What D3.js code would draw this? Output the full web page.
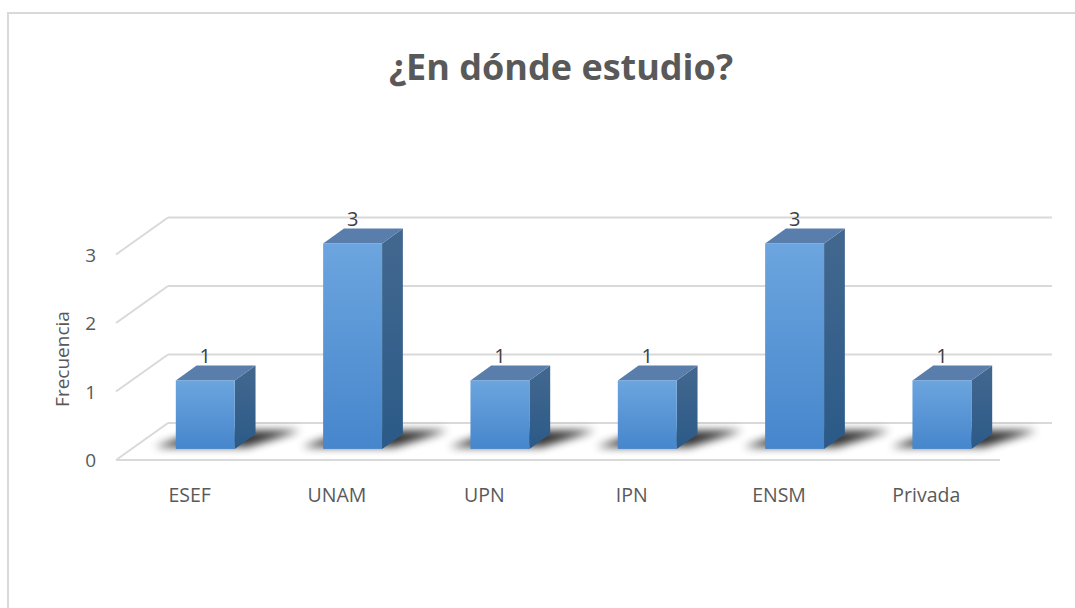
<!DOCTYPE html>
<html>
<head>
<meta charset="utf-8">
<script src="https://cdn.jsdelivr.net/npm/d3@7"></script>
<style>
  body { margin: 0; background: #fff; }
  svg { display: block; font-family: "Open Sans", sans-serif; }
</style>
</head>
<body>
<div id="app"></div>
<script>
const categories = ["ESEF", "UNAM", "UPN", "IPN", "ENSM", "Privada"];
const values = [1, 3, 1, 1, 3, 1];
const yTicks = [0, 1, 2, 3];
const title = "¿En dónde estudio?";
const yTitle = "Frecuencia";

const width = 1075;
const height = 608;

// floor front edge and depth offset of the back wall
const floorLeft = 116;
const floorRight = 1000;
const floorFront = 460;
const depthX = 52;
const depthY = -37;
const barZ0 = 0.3;
const barZ1 = 0.7;

const x = d3.scaleBand().domain(categories).range([floorLeft, floorRight]);
const y = d3.scaleLinear().domain([0, 3]).range([0, 205.5]);

// project a point (front x, value, depth z) to screen
const px = (xx, z) => xx + depthX * z;
const py = (v, z) => floorFront + depthY * z - y(v);

const svg = d3.select("#app").append("svg")
  .attr("width", width)
  .attr("height", height);

const defs = svg.append("defs");
const front = defs.append("linearGradient").attr("id", "front")
  .attr("x1", 0).attr("y1", 0).attr("x2", 0).attr("y2", 1);
front.append("stop").attr("offset", "0%").attr("stop-color", "#6ca5df");
front.append("stop").attr("offset", "100%").attr("stop-color", "#4686cc");
const side = defs.append("linearGradient").attr("id", "side")
  .attr("x1", 0).attr("y1", 0).attr("x2", 0).attr("y2", 1);
side.append("stop").attr("offset", "0%").attr("stop-color", "#43688f");
side.append("stop").attr("offset", "100%").attr("stop-color", "#2b5a88");
defs.append("filter").attr("id", "blur")
  .attr("x", "-50%").attr("y", "-100%").attr("width", "200%").attr("height", "300%")
  .append("feGaussianBlur").attr("stdDeviation", 4);

svg.append("rect")
  .attr("x", 8).attr("y", 13)
  .attr("width", width).attr("height", height)
  .attr("fill", "#fff")
  .attr("stroke", "#d9d9d9")
  .attr("stroke-width", 2);

svg.append("text")
  .attr("x", 561).attr("y", 80)
  .attr("text-anchor", "middle")
  .attr("font-size", 36)
  .attr("font-weight", "bold")
  .attr("fill", "#595959")
  .text(title);

// gridlines: back wall + left side diagonals
const grid = svg.append("g").attr("stroke", "#d9d9d9").attr("stroke-width", 2).attr("fill", "none");
yTicks.forEach((t) => {
  grid.append("line")
    .attr("x1", px(floorLeft, 1)).attr("y1", py(t, 1))
    .attr("x2", px(floorRight, 1)).attr("y2", py(t, 1));
  grid.append("line")
    .attr("x1", px(floorLeft, 0)).attr("y1", py(t, 0))
    .attr("x2", px(floorLeft, 1)).attr("y2", py(t, 1));
});
grid.append("line")
  .attr("x1", floorLeft).attr("y1", py(0, 0))
  .attr("x2", floorRight).attr("y2", py(0, 0));

svg.append("g").selectAll("text")
  .data(yTicks).enter().append("text")
  .attr("x", floorLeft - 20)
  .attr("y", (d) => py(d, 0) + 7)
  .attr("text-anchor", "end")
  .attr("font-size", 19)
  .attr("fill", "#595959")
  .text((d) => d);

svg.append("text")
  .attr("transform", `translate(69, 359) rotate(-90)`)
  .attr("text-anchor", "middle")
  .attr("font-size", 19)
  .attr("fill", "#595959")
  .text(yTitle);

svg.append("g").selectAll("text")
  .data(categories).enter().append("text")
  .attr("x", (d) => x(d) + x.bandwidth() / 2)
  .attr("y", 502)
  .attr("text-anchor", "middle")
  .attr("font-size", 19.5)
  .attr("fill", "#595959")
  .text((d) => d);

const barW = x.bandwidth() * 0.4;
const dx = depthX * (barZ1 - barZ0);
const dy = depthY * (barZ1 - barZ0);
const bars = svg.append("g").selectAll("g")
  .data(categories.map((c, i) => ({ c, v: values[i] })))
  .enter().append("g");

// floor shadow
bars.append("path")
  .attr("fill", "#000")
  .attr("opacity", 0.8)
  .attr("filter", "url(#blur)")
  .attr("d", (d) => {
    const l = x(d.c) + (x.bandwidth() - barW) / 2;
    const r = l + barW;
    return d3.line()([
      [px(l - 24, barZ0 + 0.05), py(0, barZ0 + 0.05)],
      [px(r + 10, barZ0 + 0.05), py(0, barZ0 + 0.05)],
      [px(r + 40, barZ1 + 0.1), py(0, barZ1 + 0.1)],
      [px(l, barZ1 + 0.1), py(0, barZ1 + 0.1)]
    ]) + "Z";
  });

bars.append("path")
  .attr("fill", "url(#side)")
  .attr("d", (d) => {
    const r = px(x(d.c) + (x.bandwidth() + barW) / 2, barZ0);
    const t = py(d.v, barZ0);
    const b = py(0, barZ0);
    return d3.line()([[r, t], [r + dx, t + dy], [r + dx, b + dy], [r, b]]) + "Z";
  });

bars.append("path")
  .attr("fill", "#5a7eac")
  .attr("d", (d) => {
    const l = px(x(d.c) + (x.bandwidth() - barW) / 2, barZ0);
    const t = py(d.v, barZ0);
    return d3.line()([[l, t], [l + barW, t], [l + barW + dx, t + dy], [l + dx, t + dy]]) + "Z";
  });

bars.append("rect")
  .attr("x", (d) => px(x(d.c) + (x.bandwidth() - barW) / 2, barZ0))
  .attr("y", (d) => py(d.v, barZ0))
  .attr("width", barW)
  .attr("height", (d) => y(d.v))
  .attr("fill", "url(#front)");

bars.append("text")
  .attr("x", (d) => px(x(d.c) + x.bandwidth() / 2, barZ0))
  .attr("y", (d) => py(d.v, barZ1) - 3)
  .attr("text-anchor", "middle")
  .attr("font-size", 20)
  .attr("fill", "#404040")
  .text((d) => d.v);
</script>
</body>
</html>
